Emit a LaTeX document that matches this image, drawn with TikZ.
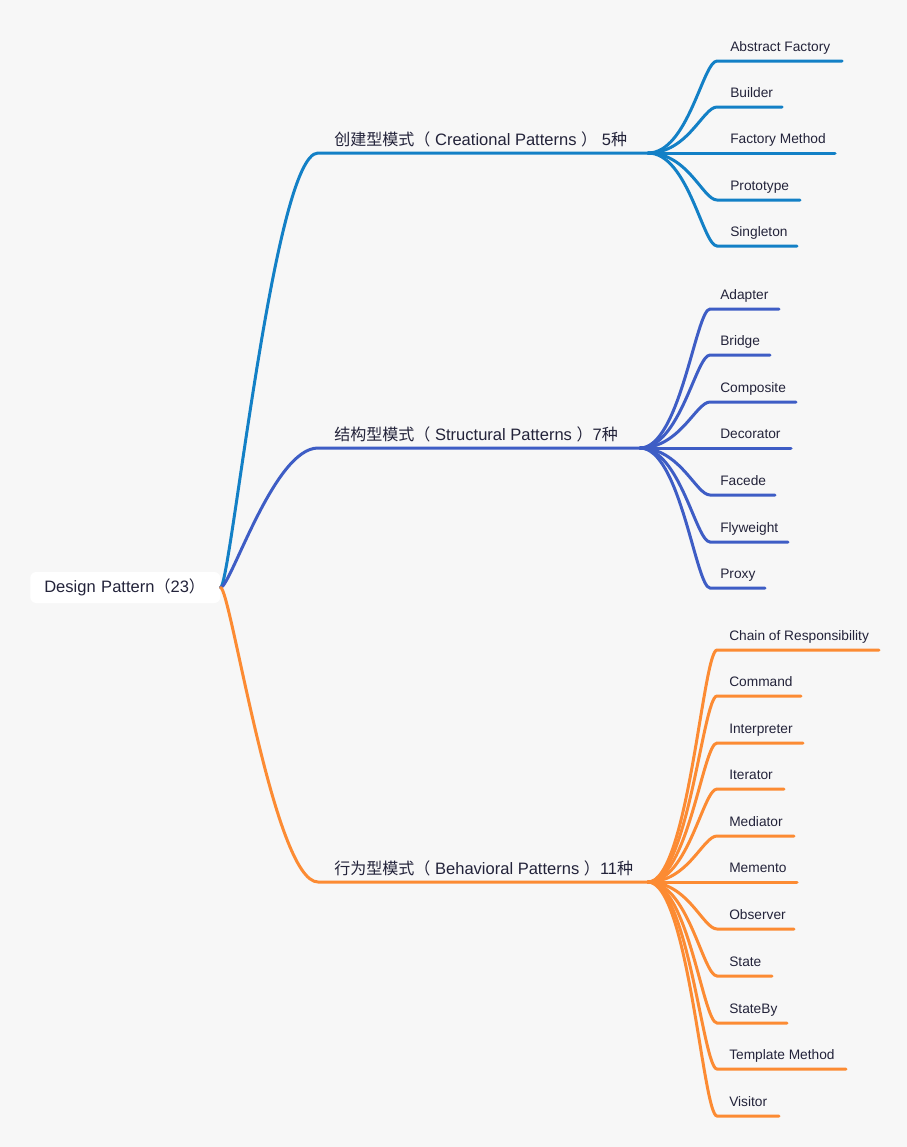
\documentclass[tikz,border=0pt]{standalone}
\usepackage{fontspec}
\setmainfont{Liberation Sans}
\newfontfamily\cjk[Scale=0.97]{Noto Sans CJK SC}
\definecolor{cBg}{HTML}{F7F7F7}
\definecolor{cCre}{HTML}{1380C6}
\definecolor{cStr}{HTML}{3E5DC5}
\definecolor{cBeh}{HTML}{FC8B33}
\definecolor{cInk}{HTML}{23233A}
\begin{document}
\begin{tikzpicture}[x=0.75pt,y=-0.75pt,
  conn/.style={line width=2.25pt, line cap=round},
  leaf/.style={anchor=base west, inner sep=0pt, text=cInk, font=\fontsize{10.3}{12}\selectfont},
  branchlabel/.style={anchor=base west, inner sep=0pt, text=cInk, font=\fontsize{12.4}{14}\selectfont},
  rootbox/.style={fill=white, rounded corners=4.5pt, text=cInk, font=\fontsize{12.4}{14}\selectfont,
    minimum height=23.25pt, text width=121.5pt, align=left, inner xsep=10.5pt, inner ysep=0pt}
]
\fill[cBg] (0,0) rectangle (907,1147);
\useasboundingbox (0,0) rectangle (907,1147);

% root
\node[rootbox, anchor=west] (root) at (30,587.5) {Design Pattern{\cjk （}23{\cjk ）}};

% ---------- Creational ----------
\coordinate (creK) at (318,153);
\coordinate (creF) at (648,153);
\node[branchlabel] (cre) at (334,145) {{\cjk 创建型模式（} Creational Patterns {\cjk ）} 5{\cjk 种}};
\draw[conn,cCre] (root.east) .. controls +(10,0) and +(-44,0) .. (creK) -- (creF);
\foreach \i/\yy/\ee/\lab in {1/61/842/Abstract Factory, 2/107/782/Builder, 3/153/835/Factory Method,
  4/200/800/Prototype, 5/246/797/Singleton} {
  \coordinate (cre\i s) at (717,\yy);
  \coordinate (cre\i e) at (\ee,\yy);
  \node[leaf] (cre\i) at (730,\yy-10) {\lab};
  \draw[conn,cCre] (creF) .. controls +(40,0) and +(-14,0) .. (cre\i s) -- (cre\i e);
}

% ---------- Structural ----------
\coordinate (strK) at (318,448);
\coordinate (strF) at (640,448);
\node[branchlabel] (str) at (334,440) {{\cjk 结构型模式（} Structural Patterns {\cjk ）}7{\cjk 种}};
\draw[conn,cStr] (root.east) .. controls +(10,0) and +(-44,0) .. (strK) -- (strF);
\foreach \i/\yy/\ee/\lab in {1/309/779/Adapter, 2/355/770/Bridge, 3/402/796/Composite,
  4/448/791/Decorator, 5/495/775/Facede, 6/542/788/Flyweight, 7/588/765/Proxy} {
  \coordinate (str\i s) at (710,\yy);
  \coordinate (str\i e) at (\ee,\yy);
  \node[leaf] (str\i) at (720,\yy-10) {\lab};
  \draw[conn,cStr] (strF) .. controls +(40,0) and +(-14,0) .. (str\i s) -- (str\i e);
}

% ---------- Behavioral ----------
\coordinate (behK) at (318,882);
\coordinate (behF) at (648,882);
\node[branchlabel] (beh) at (334,874) {{\cjk 行为型模式（} Behavioral Patterns {\cjk ）}11{\cjk 种}};
\draw[conn,cBeh] (root.east) .. controls +(10,0) and +(-44,0) .. (behK) -- (behF);
\foreach \i/\yy/\ee/\lab in {1/650/879/Chain of Responsibility, 2/696/801/Command, 3/743/803/Interpreter,
  4/789/784/Iterator, 5/836/794/Mediator, 6/882/797/Memento, 7/929/794/Observer,
  8/976/772/State, 9/1023/787/StateBy, 10/1069/846/Template Method, 11/1116/779/Visitor} {
  \coordinate (beh\i s) at (717,\yy);
  \coordinate (beh\i e) at (\ee,\yy);
  \node[leaf] (beh\i) at (729,\yy-10) {\lab};
  \draw[conn,cBeh] (behF) .. controls +(40,0) and +(-14,0) .. (beh\i s) -- (beh\i e);
}
\end{tikzpicture}
\end{document}
